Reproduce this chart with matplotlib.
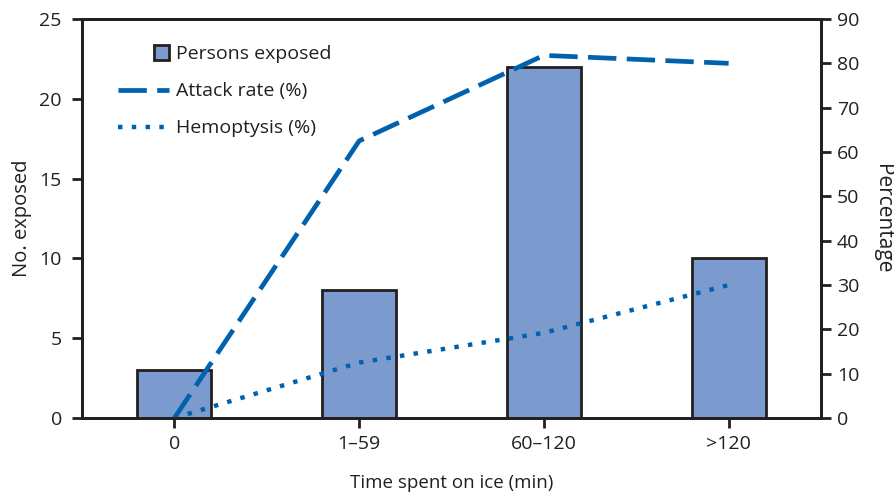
import matplotlib
matplotlib.use("Agg")
import matplotlib.pyplot as plt
from matplotlib.legend_handler import HandlerPatch
from matplotlib.patches import Rectangle, Patch
from matplotlib.lines import Line2D

categories = ["0", "1–59", "60–120", ">120"]
persons_exposed = [3, 8, 22, 10]
attack_rate = [0, 62.5, 81.8, 80]
hemoptysis = [0, 12.5, 19.2, 30]

plt.rcParams['font.family'] = ['Open Sans', 'DejaVu Sans']
dark = '#231f20'
blue = '#0062ad'
barc = '#7b9bcf'
fs = 14

fig = plt.figure(figsize=(8.95, 4.93), dpi=100)
ax = fig.add_axes([82/895, 1-418/493, (821-82)/895, (418-19)/493])
x = list(range(len(categories)))
ax.bar(x, persons_exposed, width=0.4, color=barc, edgecolor=dark, linewidth=2, zorder=2)
ax.set_xlim(-0.5, 3.5)
ax.set_ylim(0, 25)
ax.set_yticks([0, 5, 10, 15, 20, 25])
ax.set_xticks(x)
ax.set_xticklabels(categories)
ax.set_ylabel("No. exposed", fontsize=14.5, color=dark, labelpad=5)
ax.set_xlabel("Time spent on ice (min)", fontsize=13.5, color=dark, labelpad=15)

ax2 = ax.twinx()
ax2.plot(x, attack_rate, color=blue, linewidth=3.4, dashes=(6, 2.2), solid_capstyle='butt', dash_capstyle='butt')
ax2.plot(x, hemoptysis, color=blue, linewidth=3.2, dashes=(1, 2.1), dash_capstyle='butt')
ax2.set_ylim(0, 90)
ax2.set_yticks(range(0, 91, 10))
ax2.set_ylabel("Percentage", fontsize=15, color=dark, rotation=270, labelpad=24)

for a in (ax, ax2):
    for s in a.spines.values():
        s.set_linewidth(2)
        s.set_color(dark)
    a.tick_params(axis='both', direction='out', length=7.5, width=2, color=dark,
                  labelsize=fs, labelcolor=dark)
ax.tick_params(axis='y', pad=7)
ax.tick_params(axis='x', pad=5)
ax2.tick_params(axis='y', pad=4)

class SquareHandler(HandlerPatch):
    def create_artists(self, legend, orig_handle, xdescent, ydescent, width, height, fontsize, trans):
        s = height * 1.1
        p = Rectangle((-xdescent + width - s, -ydescent + (height - s) / 2), s, s,
                      facecolor=barc, edgecolor=dark, linewidth=2, transform=trans)
        return [p]

h_bar = Patch(facecolor=barc, edgecolor=dark)
h_att = Line2D([], [], color=blue, linewidth=3.4, dashes=(6, 2.2))
h_hem = Line2D([], [], color=blue, linewidth=3.2, dashes=(1, 2.1))
leg = ax2.legend([h_bar, h_att, h_hem], ["Persons exposed", "Attack rate (%)", "Hemoptysis (%)"],
                 handler_map={Patch: SquareHandler()}, frameon=False, fontsize=fs,
                 loc='upper left', bbox_to_anchor=(0.025, 0.978), handlelength=2.6,
                 handletextpad=0.4, labelspacing=0.98, labelcolor=dark)

fig.savefig("out.png", dpi=100)
